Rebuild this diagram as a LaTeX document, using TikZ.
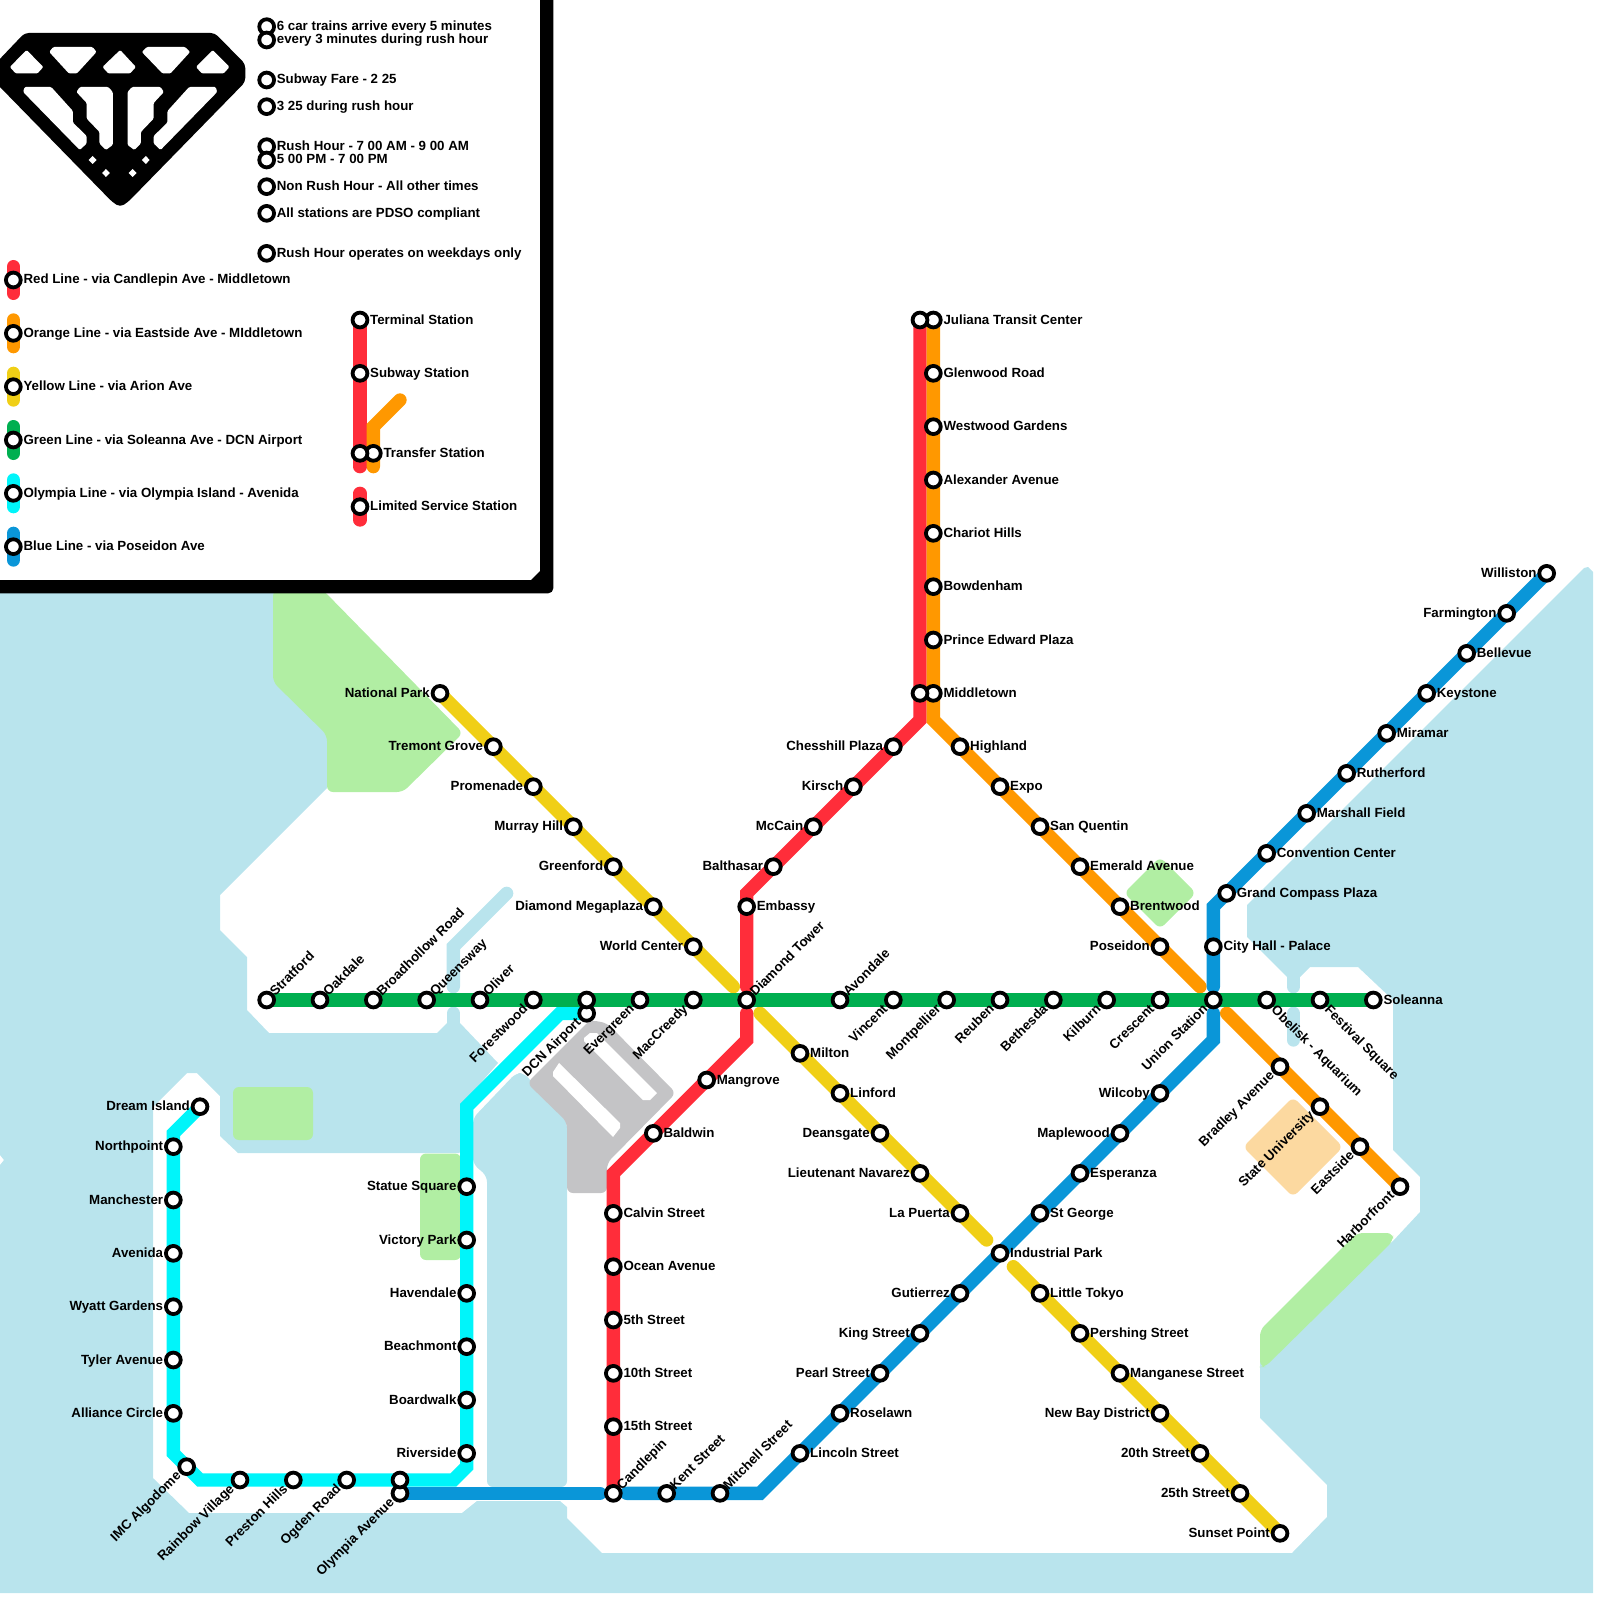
\documentclass[tikz,border=0pt]{standalone}
\usepackage{fontspec}
\setmainfont{Liberation Sans}
\pgfdeclarelayer{maplayer}
\pgfdeclarelayer{linelayer}
\pgfsetlayers{maplayer,linelayer,main}
\definecolor{water}{HTML}{B9E4ED}
\definecolor{park}{HTML}{B1EEA3}
\definecolor{campus}{HTML}{FCD9A0}
\definecolor{airport}{HTML}{C4C4C6}
\definecolor{redline}{HTML}{FF2D3A}
\definecolor{orangeline}{HTML}{FF9800}
\definecolor{yellowline}{HTML}{F0CF16}
\definecolor{greenline}{HTML}{00AF50}
\definecolor{cyanline}{HTML}{00F5FA}
\definecolor{blueline}{HTML}{0A96D8}
\tikzset{
  stn/.style={circle,draw=black,fill=white,line width=1.9pt,minimum size=7.4pt,inner sep=0pt},
  labtext/.style={inner sep=0pt,font=\fontsize{6.65}{8}\selectfont\bfseries,text=black},
  lR/.style={labtext,shift={(4.9pt,-2pt)},anchor=base west},
  lL/.style={labtext,shift={(-4.9pt,-2pt)},anchor=base east},
  lNE/.style={labtext,shift={(4.2pt,1.5pt)},rotate=45,anchor=base west},
  lSW/.style={labtext,shift={(-2.4pt,-4.8pt)},rotate=45,anchor=base east},
  lSE/.style={labtext,shift={(1.85pt,-5.35pt)},rotate=-45,anchor=base west},
  metro/.style={line width=6.667pt,line cap=round,line join=miter},
  riverline/.style={line width=6.667pt,line cap=round,line join=miter,draw=water},
  softshape/.style={rounded corners=3pt},
}
\begin{document}
\begin{tikzpicture}[x=6.66667pt,y=-6.66667pt]
\useasboundingbox (0,0) rectangle (120,120);

% --- background map, in reference pixels
\begin{pgfonlayer}{maplayer}
\begin{scope}[x=0.5pt,y=-0.5pt]
\fill[water] (0,580)--(300,580)--(300,650)--(327,720)--(327,788)--(220,895)--(220,930)--(247,957)--(247,1010)--(269,1033)--(437,1033)--(447,1023)--(460,1023)--(498,1063)--(466,1100)--(466,1146)--(459,1153)--(238,1153)--(220,1136)--(220,1096)--(197,1073)--(187,1073)--(153,1107)--(153,1478)--(189,1513)--(462,1513)--(477,1501)--(560,1501)--(567,1507)--(567,1518)--(602,1553)--(1292,1553)--(1327,1517)--(1327,1485)--(1260,1418)--(1260,1350)--(1393,1241)--(1420,1212)--(1420,1177)--(1393,1150)--(1393,1000)--(1358,967)--(1310,967)--(1300,977)--(1287,977)--(1247,937)--(1247,905)--(1584,568)--(1588,567)--(1593,572)--(1593,1593)--(0,1593)--(0,1165)--(4,1160)--(0,1155)--cycle;
\fill[water,softshape] (473,1118)--(516,1073)--(524,1073)--(567,1122)--(567,1487)--(487,1487)--(487,1176)--(473,1164)--cycle;
\fill[park,softshape] (273,590)--(323,590)--(463,733)--(403,792)--(327,792)--(327,735)--(273,682)--cycle;
\fill[park,softshape] (233,1087) rectangle (313,1140);
\fill[park,softshape] (420,1153.5) rectangle (461,1260);
\fill[park,softshape] (1160,857)--(1196,893)--(1160,929)--(1124,893)--cycle;
\fill[park,softshape] (1260,1330)--(1357,1233)--(1393,1233)--(1393,1241)--(1265,1367)--(1260,1367)--cycle;
\fill[campus,softshape] (1293,1097)--(1343,1147)--(1293,1197)--(1243,1147)--cycle;
\fill[airport,softshape] (527,1083)--(590,1020)--(607,1023)--(676,1093)--(607,1163)--(607,1193)--(567,1193)--(567,1122)--cycle;
\fill[white] (553,1072)--(559,1063)--(620,1123)--(620,1128)--(613,1137)--(553,1076)--cycle;
\fill[white] (584,1038)--(590,1033)--(597,1033)--(657,1093)--(650,1100)--(643,1100)--(584,1041)--cycle;
\end{scope}
\draw[riverline] (38,67)--(34,71)--(34,74);
\draw[riverline] (34,76)--(34,78);
\draw[riverline] (97,72)--(97,74);
\draw[riverline] (97,76)--(97,78);
\end{pgfonlayer}

% --- logo and legend frame
\begin{scope}[x=0.5pt,y=-0.5pt]
\fill[black] (553.3,-10) [rounded corners=2.5pt] -- (553.3,593.3) [sharp corners] -- (-10,593.3) -- (-10,580) -- (531,580) -- (540,571) -- (540,-10) -- cycle;
\end{scope}
\begin{scope}[x=0.4925pt,y=-0.5pt]
\fill[black,rounded corners=2pt] (25,33)--(218,33)--(249,64)--(249,82)--(130,202)--(122,207)--(114,202)--(-5,82)--(-5,64)--cycle;
\begin{scope}[white,rounded corners=0.6pt]
\fill (27,50)--(44,67)--(38,73.5)--(16,73.5)--(10,67)--cycle;
\fill (54,47)--(94,47)--(98,52)--(78,73.5)--(70,73.5)--(50,52)--cycle;
\fill (122,50)--(138,67)--(132,73.5)--(110,73.5)--(104,67)--cycle;
\fill (149,47)--(188,47)--(193,52)--(173,73.5)--(165,73.5)--(144,52)--cycle;
\fill (216,50)--(233,67)--(227,73.5)--(205,73.5)--(199,67)--cycle;
\fill (25,87)--(52,87)--(74,111)--(74,122.5)--(88,136)--(88,143.5)--(81,150)--(23.5,92)--cycle;
\fill (81,87)--(110,87)--(114.5,92)--(114.5,145)--(107.5,150)--(101,143.5)--(101,132)--(88,118.6)--(88,103)--(77.6,92)--cycle;
\fill (163,87)--(134,87)--(129.5,92)--(129.5,145)--(136.5,150)--(143,143.5)--(143,132)--(156,118.6)--(156,103)--(166.4,92)--cycle;
\fill (219,87)--(192,87)--(170,111)--(170,122.5)--(156,136)--(156,143.5)--(163,150)--(220.5,92)--cycle;
\end{scope}
\foreach \cx/\cy in {94/160,107.6/173,134.6/173,148/160}
  \fill[white] (\cx-4,\cy)--(\cx,\cy-4)--(\cx+4,\cy)--(\cx,\cy+4)--cycle;
\end{scope}

% --- stations with labels
\foreach \id/\x/\y/\side/\txt in {
 Stratford/20/75/lNE/Stratford, Oakdale/24/75/lNE/Oakdale, Broadhollow/28/75/lNE/Broadhollow Road,
 Queensway/32/75/lNE/Queensway, Oliver/36/75/lNE/Oliver, Forestwood/40/75/lSW/Forestwood,
 Evergreen/48/75/lSW/Evergreen, MacCreedy/52/75/lSW/MacCreedy, DiamondTower/56/75/lNE/Diamond Tower,
 Avondale/63/75/lNE/Avondale, Vincent/67/75/lSW/Vincent, Montpellier/71/75/lSW/Montpellier,
 Reuben/75/75/lSW/Reuben, Bethesda/79/75/lSW/Bethesda, Kilburn/83/75/lSW/Kilburn,
 Crescent/87/75/lSW/Crescent, Union/91/75/lSW/Union Station, Obelisk/95/75/lSE/Obelisk - Aquarium,
 Festival/99/75/lSE/Festival Square, Soleanna/103/75/lR/Soleanna, DCN/44/76/lSW/DCN Airport,
 National/33/52/lL/National Park, Tremont/37/56/lL/Tremont Grove, Promenade/40/59/lL/Promenade,
 Murray/43/62/lL/Murray Hill, Greenford/46/65/lL/Greenford, Megaplaza/49/68/lL/Diamond Megaplaza,
 WorldCenter/52/71/lL/World Center, Milton/60/79/lR/Milton, Linford/63/82/lR/Linford,
 Deansgate/66/85/lL/Deansgate, Navarez/69/88/lL/Lieutenant Navarez, LaPuerta/72/91/lL/La Puerta,
 LittleTokyo/78/97/lR/Little Tokyo, Pershing/81/100/lR/Pershing Street, Manganese/84/103/lR/Manganese Street,
 NewBay/87/106/lL/New Bay District, St20/90/109/lL/20th Street, St25/93/112/lL/25th Street, Sunset/96/115/lL/Sunset Point,
 Chesshill/67/56/lL/Chesshill Plaza, Kirsch/64/59/lL/Kirsch, McCain/61/62/lL/McCain, Balthasar/58/65/lL/Balthasar,
 Embassy/56/68/lR/Embassy, Mangrove/53/81/lR/Mangrove, Baldwin/49/85/lR/Baldwin, Calvin/46/91/lR/Calvin Street,
 Ocean/46/95/lR/Ocean Avenue, St5/46/99/lR/5th Street, St10/46/103/lR/10th Street, St15/46/107/lR/15th Street,
 Candlepin/46/112/lNE/Candlepin,
 Juliana/70/24/lR/Juliana Transit Center, Glenwood/70/28/lR/Glenwood Road, Westwood/70/32/lR/Westwood Gardens,
 Alexander/70/36/lR/Alexander Avenue, Chariot/70/40/lR/Chariot Hills, Bowdenham/70/44/lR/Bowdenham,
 PrinceEdward/70/48/lR/Prince Edward Plaza, Middletown/70/52/lR/Middletown, Highland/72/56/lR/Highland,
 Expo/75/59/lR/Expo, SanQuentin/78/62/lR/San Quentin, Emerald/81/65/lR/Emerald Avenue, Brentwood/84/68/lR/Brentwood,
 Poseidon/87/71/lL/Poseidon, Bradley/96/80/lSW/Bradley Avenue, StateU/99/83/lSW/State University,
 Eastside/102/86/lSW/Eastside, Harborfront/105/89/lSW/Harborfront,
 Williston/116/43/lL/Williston, Farmington/113/46/lL/Farmington, Bellevue/110/49/lR/Bellevue, Keystone/107/52/lR/Keystone,
 Miramar/104/55/lR/Miramar, Rutherford/101/58/lR/Rutherford, Marshall/98/61/lR/Marshall Field,
 Convention/95/64/lR/Convention Center, GrandCompass/92/67/lR/Grand Compass Plaza, CityHall/91/71/lR/City Hall - Palace,
 Wilcoby/87/82/lL/Wilcoby, Maplewood/84/85/lL/Maplewood, Esperanza/81/88/lR/Esperanza, StGeorge/78/91/lR/St George,
 Industrial/75/94/lR/Industrial Park, Gutierrez/72/97/lL/Gutierrez, King/69/100/lL/King Street, Pearl/66/103/lL/Pearl Street,
 Roselawn/63/106/lR/Roselawn, Lincoln/60/109/lR/Lincoln Street, Mitchell/54/112/lNE/Mitchell Street, Kent/50/112/lNE/Kent Street,
 OlympiaAve/30/112/lSW/Olympia Avenue,
 Dream/15/83/lL/Dream Island, Northpoint/13/86/lL/Northpoint, Manchester/13/90/lL/Manchester, Avenida/13/94/lL/Avenida,
 Wyatt/13/98/lL/Wyatt Gardens, Tyler/13/102/lL/Tyler Avenue, Alliance/13/106/lL/Alliance Circle, IMC/14/110/lSW/IMC Algodome,
 Rainbow/18/111/lSW/Rainbow Village, Preston/22/111/lSW/Preston Hills, Ogden/26/111/lSW/Ogden Road,
 Statue/35/89/lL/Statue Square, Victory/35/93/lL/Victory Park, Havendale/35/97/lL/Havendale,
 Beachmont/35/101/lL/Beachmont, Boardwalk/35/105/lL/Boardwalk, Riverside/35/109/lL/Riverside,
 InfoA/20/2/lR/6 car trains arrive every 5 minutes, InfoB/20/3/lR/every 3 minutes during rush hour,
 InfoC/20/6/lR/Subway Fare - 2 25, InfoD/20/8/lR/3 25 during rush hour,
 InfoE/20/11/lR/Rush Hour - 7 00 AM - 9 00 AM, InfoF/20/12/lR/5 00 PM - 7 00 PM,
 InfoG/20/14/lR/Non Rush Hour - All other times, InfoH/20/16/lR/All stations are PDSO compliant,
 InfoI/20/19/lR/Rush Hour operates on weekdays only,
 KeyRed/1/21/lR/Red Line - via Candlepin Ave - Middletown, KeyOrange/1/25/lR/Orange Line - via Eastside Ave - MIddletown,
 KeyYellow/1/29/lR/Yellow Line - via Arion Ave, KeyGreen/1/33/lR/Green Line - via Soleanna Ave - DCN Airport,
 KeyCyan/1/37/lR/Olympia Line - via Olympia Island - Avenida, KeyBlue/1/41/lR/Blue Line - via Poseidon Ave,
 KeyTerminal/27/24/lR/Terminal Station, KeySubway/27/28/lR/Subway Station, KeyTransfer/28/34/lR/Transfer Station,
 KeyLimited/27/38/lR/Limited Service Station}
{
  \node[stn] (\id) at (\x,\y) {};
  \node[\side] (\id-l) at (\x,\y) {\txt};
}
% stations without a label of their own
\foreach \id/\x/\y in {JulianaRed/69/24,MiddletownRed/69/52,DCNGreen/44/75,OlympiaCyan/30/111,KeyTransferRed/27/34}
  \node[stn] (\id) at (\x,\y) {};

% --- bends and free ends
\foreach \id/\x/\y in {
 yA/55/74,yB/57/76,yC/74/93,yD/76/95,
 rA/46/88,rB/56/78,rC/56/76,rD/56/74,rE/56/67,rF/69/54,
 oA/70/54,oB/90/74,oC/92/76,
 bA/47/112,bB/57/112,bC/91/78,bD/91/76,bE/91/74,bF/91/68,bG/45/112,
 cA/13/85,cB/13/109,cC/15/111,cD/34/111,cE/35/110,cF/35/83,cG/42/76,
 kA/1/20,kB/1/22,kC/1/24,kD/1/26,kE/1/28,kF/1/30,kG/1/32,kH/1/34,kI/1/36,kJ/1/38,kK/1/40,kL/1/42,
 kM/27/35,kN/28/35,kO/28/32,kP/30/30,kQ/27/37,kR/27/39}
  \coordinate (\id) at (\x,\y);

\begin{pgfonlayer}{linelayer}
% Olympia
\draw[metro,cyanline] (Dream.center)--(cA)--(Northpoint.center)--(cB)--(cC)--(cD)--(cE)--(cF)--(cG)--(DCN.center);
% Yellow
\draw[metro,yellowline] (National.center)--(yA);
\draw[metro,yellowline] (yB)--(yC);
\draw[metro,yellowline] (yD)--(Sunset.center);
% Red
\draw[metro,redline] (Candlepin.center)--(rA)--(rB)--(rC);
\draw[metro,redline] (rD)--(rE)--(rF)--(JulianaRed.center);
% Orange
\draw[metro,orangeline] (Juliana.center)--(oA)--(oB);
\draw[metro,orangeline] (oC)--(Harborfront.center);
% Blue
\draw[metro,blueline] (OlympiaAve.center)--(bG);
\draw[metro,blueline] (bA)--(bB)--(bC)--(bD);
\draw[metro,blueline] (bE)--(bF)--(Williston.center);
% Green
\draw[metro,greenline,line cap=butt] (Stratford.center)--(Soleanna.center);
% Legend samples
\draw[metro,redline] (kA)--(kB);
\draw[metro,orangeline] (kC)--(kD);
\draw[metro,yellowline] (kE)--(kF);
\draw[metro,greenline] (kG)--(kH);
\draw[metro,cyanline] (kI)--(kJ);
\draw[metro,blueline] (kK)--(kL);
\draw[metro,redline] (KeyTerminal.center)--(kM);
\draw[metro,orangeline] (kP)--(kO)--(kN);
\draw[metro,redline] (kQ)--(kR);
\end{pgfonlayer}
\end{tikzpicture}
\end{document}
